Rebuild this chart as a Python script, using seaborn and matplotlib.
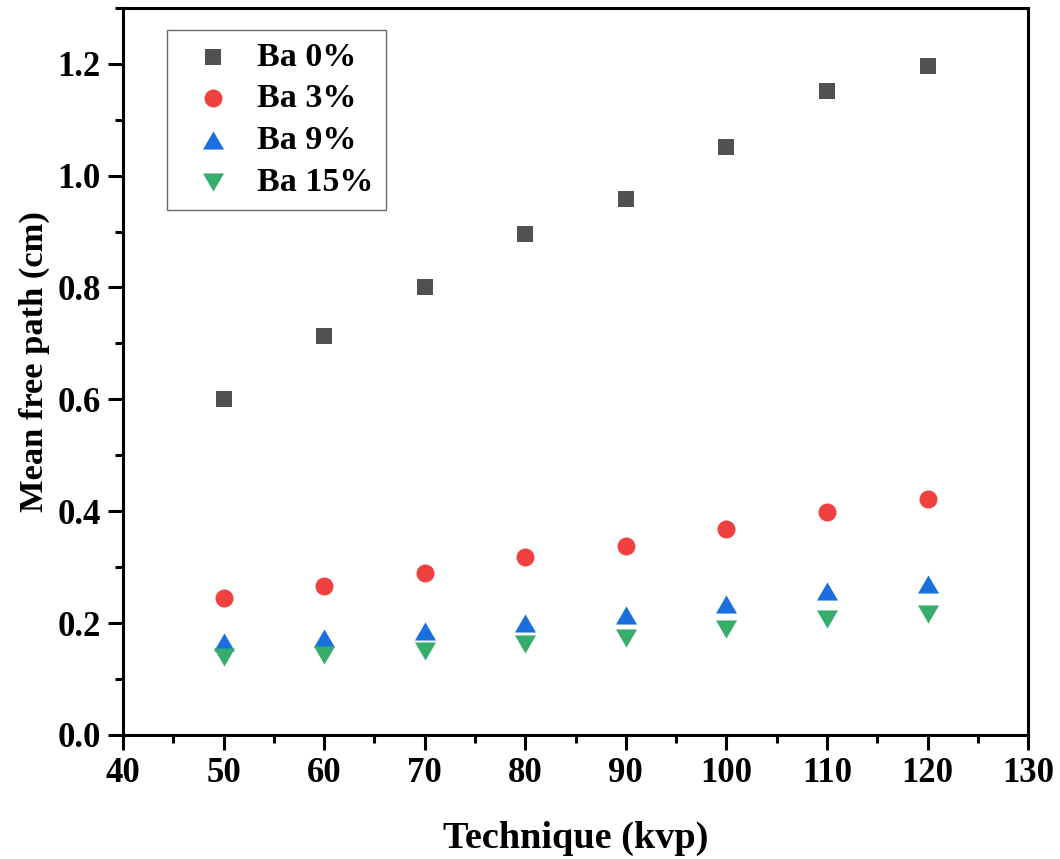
import matplotlib
matplotlib.use("Agg")
import matplotlib.pyplot as plt
import seaborn as sns
import pandas as pd
from matplotlib.ticker import MultipleLocator

kvp = [50, 60, 70, 80, 90, 100, 110, 120]
ba0 = [0.600, 0.713, 0.800, 0.896, 0.959, 1.052, 1.152, 1.196]
ba3 = [0.245, 0.266, 0.289, 0.318, 0.338, 0.368, 0.398, 0.421]
ba9 = [0.166, 0.174, 0.185, 0.200, 0.214, 0.234, 0.257, 0.269]
ba15 = [0.139, 0.143, 0.150, 0.162, 0.173, 0.190, 0.207, 0.217]
series_names = ["Ba 0%", "Ba 3%", "Ba 9%", "Ba 15%"]
colors = ["#515151", "#F14040", "#1A6FDF", "#37AD6B"]

tri_up = [(0, 0.86), (-1, -0.86), (1, -0.86), (0, 0.86)]
tri_down = [(0, -0.86), (-1, 0.86), (1, 0.86), (0, -0.86)]
markers = ["s", "o", tri_up, tri_down]
sizes = [133, 168, 230, 230]

df = pd.concat([
    pd.DataFrame({"kvp": kvp, "mfp": vals, "series": name})
    for name, vals in zip(series_names, [ba0, ba3, ba9, ba15])
])

sns.set_style("white")
plt.rcParams["font.family"] = ["Liberation Serif", "DejaVu Serif"]
plt.rcParams["font.weight"] = "bold"
plt.rcParams["text.color"] = "black"
plt.rcParams["axes.labelcolor"] = "black"
plt.rcParams["xtick.color"] = "black"
plt.rcParams["ytick.color"] = "black"

fig = plt.figure(figsize=(10.6, 8.59), dpi=100)
ax = fig.add_axes([0.116, 0.1444, 0.854, 0.8465])

for name, c, m, s in zip(series_names, colors, markers, sizes):
    sub = df[df["series"] == name]
    sns.scatterplot(data=sub, x="kvp", y="mfp", color=c, marker=m, s=s,
                    linewidth=0, ax=ax, label=name)

ax.set_xlim(40, 130)
ax.set_ylim(0, 1.3)
ax.xaxis.set_major_locator(MultipleLocator(10))
ax.xaxis.set_minor_locator(MultipleLocator(5))
ax.yaxis.set_minor_locator(MultipleLocator(0.1))
ax.set_yticks([0, 0.2, 0.4, 0.6, 0.8, 1.0, 1.2])
ax.set_yticklabels([f"{v:.1f}" for v in ax.get_yticks()])
ax.tick_params(axis="both", which="major", direction="out", length=11, width=2.2,
               labelsize=25, pad=5, bottom=True, left=True, top=False, right=False,
               colors="black")
ax.tick_params(axis="both", which="minor", direction="out", length=6, width=2.2,
               bottom=True, left=True, top=False, right=False, colors="black")
for lab in ax.get_xticklabels() + ax.get_yticklabels():
    lab.set_fontweight("bold")
for sp in ax.spines.values():
    sp.set_visible(True)
    sp.set_linewidth(2.2)
    sp.set_color("black")

ax.set_xlabel("Technique (kvp)", fontsize=27.5, fontweight="bold", labelpad=22,
              color="black")
ax.set_ylabel("Mean free path (cm)", fontsize=24.8, fontweight="bold", color="black")
ax.yaxis.set_label_coords(-0.081, 0.513)

leg = ax.legend(loc="upper left", bbox_to_anchor=(0.0486, 0.970), frameon=True,
                fancybox=False, edgecolor="#444444",
                prop={"weight": "bold", "size": 24.5}, handletextpad=0.3,
                borderpad=0.35, labelspacing=0.32, markerscale=1.0,
                borderaxespad=0, handlelength=2.0)
leg.get_frame().set_linewidth(1.0)
for t in leg.get_texts():
    t.set_color("black")

fig.savefig("out.png", dpi=100)
